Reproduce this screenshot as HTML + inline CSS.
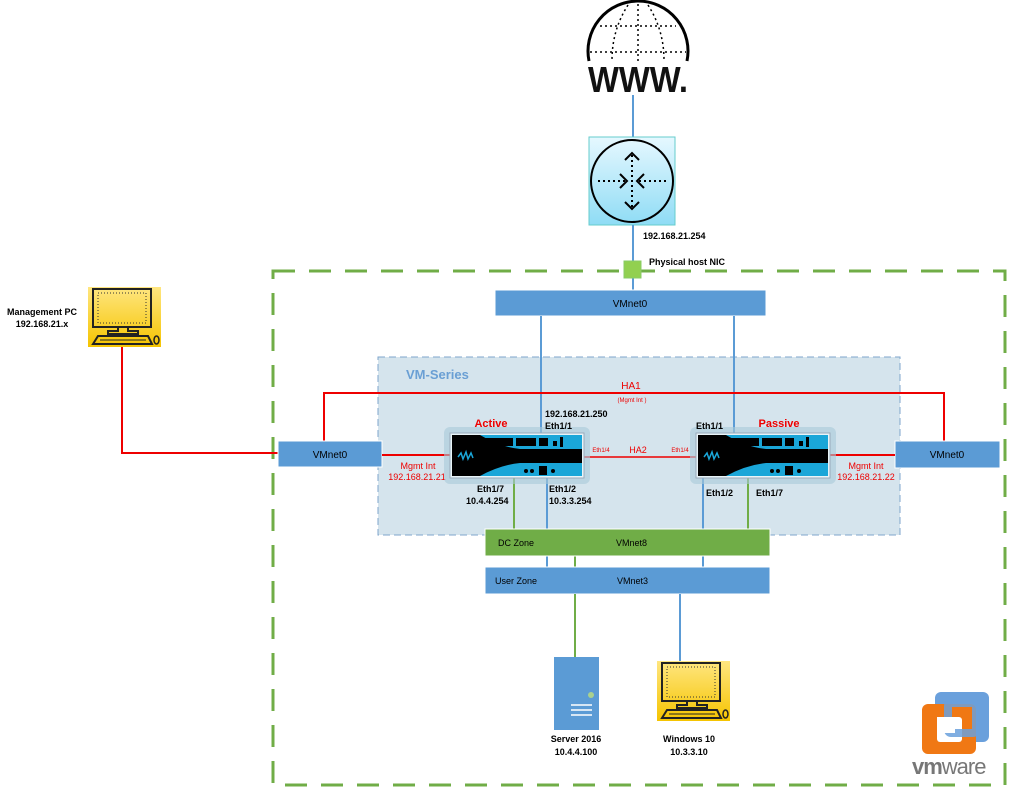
<!DOCTYPE html>
<html><head><style>
body{margin:0;background:#fff}
svg{display:block;font-family:"Liberation Sans",sans-serif}
</style></head><body>
<svg width="1009" height="788" viewBox="0 0 1009 788" xmlns="http://www.w3.org/2000/svg">
<defs>
<linearGradient id="rg" x1="0" y1="0" x2="0" y2="1"><stop offset="0" stop-color="#e6f8ff"/><stop offset="1" stop-color="#8fdcf5"/></linearGradient>
<linearGradient id="yg" x1="0" y1="0" x2="0" y2="1"><stop offset="0" stop-color="#ffe680"/><stop offset="1" stop-color="#f5c400"/></linearGradient>
<g id="fw">
<rect x="-6" y="-6" width="146" height="57" rx="6" fill="#a9c9d8" opacity="0.6"/>
<rect x="0" y="0" width="134" height="45" fill="#e8f4f8" stroke="#9ab" />
<rect x="2" y="2" width="130" height="41" fill="#1aa6d8"/>
<path d="M2 16 L132 16 L132 30 L2 30 Z" fill="#000"/>
<path d="M2 2 L30 2 Q50 14 70 16 L2 16 Z" fill="#000"/>
<path d="M2 43 L30 43 Q50 32 70 30 L2 30 Z" fill="#000"/>
<path d="M8 24 l3 -4 l2 6 l3 -7 l2 7 l3 -6 l2 5" stroke="#1aa6d8" stroke-width="1.5" fill="none"/>
<g fill="#000"><rect x="35" y="5" width="28" height="8"/><rect x="66" y="5" width="20" height="8"/><rect x="89" y="5" width="9" height="8"/><rect x="103" y="8" width="4" height="5"/><rect x="110" y="4" width="3" height="10"/><rect x="89" y="33" width="8" height="9"/><circle cx="82" cy="38" r="2"/><circle cx="76" cy="38" r="2"/><circle cx="103" cy="38" r="2"/></g>
</g>
<g id="pc">
<rect x="0" y="0" width="73" height="60" fill="url(#yg)"/>
<rect x="5" y="2" width="58" height="38" fill="none" stroke="#222" stroke-width="2"/>
<rect x="10" y="6" width="48" height="30" fill="none" stroke="#333" stroke-dasharray="1,2"/>
<path d="M30 40 v4 h-10 v3 h30 v-3 h-10 v-4" fill="none" stroke="#222" stroke-width="2"/>
<path d="M5 57 L10 49 L60 49 L64 57 Z" fill="none" stroke="#222" stroke-width="2"/>
<line x1="12" y1="53" x2="58" y2="53" stroke="#222"/>
<ellipse cx="68.5" cy="53" rx="2.5" ry="4" fill="none" stroke="#222" stroke-width="1.5"/>
</g>
</defs>

<!-- WWW -->
<path d="M589 61 A50 50 0 1 1 687 61" fill="none" stroke="#000" stroke-width="3"/>
<g stroke="#000" stroke-width="1.5" stroke-dasharray="2,3" fill="none">
<line x1="590" y1="52" x2="686" y2="52"/><line x1="600" y1="26" x2="676" y2="26"/>
<line x1="638" y1="4" x2="638" y2="62"/><path d="M628 5 Q612 30 612 60"/><path d="M648 5 Q664 30 664 60"/>
</g>
<text x="588" y="92" font-size="36" font-weight="bold" fill="#111" textLength="100" lengthAdjust="spacingAndGlyphs">WWW.</text>
<line x1="633" y1="95" x2="633" y2="137" stroke="#5b9bd5" stroke-width="2"/>
<!-- Router -->
<rect x="589" y="137" width="86" height="88" fill="url(#rg)" stroke="#6cc" />
<circle cx="632" cy="181" r="41" fill="none" stroke="#000" stroke-width="2"/>
<g stroke="#000" stroke-width="2" fill="none">
<path d="M625 160 l7 -7 l7 7"/><path d="M625 202 l7 7 l7 -7"/><path d="M620 174 l7 7 l-7 7"/><path d="M644 174 l-7 7 l7 7"/>
<g stroke-dasharray="2,3"><line x1="632" y1="155" x2="632" y2="207"/><line x1="598" y1="181" x2="625" y2="181"/><line x1="639" y1="181" x2="667" y2="181"/></g>
</g>
<line x1="633" y1="225" x2="633" y2="290" stroke="#5b9bd5" stroke-width="2"/>
<text x="643" y="239" font-size="9" font-weight="bold">192.168.21.254</text>
<text x="649" y="265" font-size="9" font-weight="bold">Physical host NIC</text>

<!-- outer dashed -->
<rect x="273" y="271" width="732" height="514" fill="none" stroke="#70ad47" stroke-width="3" stroke-dasharray="22,14"/>
<rect x="624" y="261" width="17" height="17" fill="#92d050" stroke="#8c6"/>

<!-- VM-Series -->
<rect x="378" y="357" width="522" height="178" fill="#d5e4ed" stroke="#7fa6cc" stroke-dasharray="7,4"/>
<text x="406" y="379" font-size="13" font-weight="bold" fill="#6a9fd4">VM-Series</text>

<!-- VMnet0 top -->
<rect x="495" y="290" width="271" height="26" fill="#5b9bd5" stroke="#fff"/>
<text x="630" y="307" font-size="10" text-anchor="middle">VMnet0</text>
<line x1="541" y1="316" x2="541" y2="437" stroke="#5b9bd5" stroke-width="2"/>
<line x1="734" y1="316" x2="734" y2="437" stroke="#5b9bd5" stroke-width="2"/>

<!-- Mgmt PC -->
<use href="#pc" x="88" y="287"/>
<text x="42" y="315" font-size="9" font-weight="bold" text-anchor="middle">Management PC</text>
<text x="42" y="327" font-size="9" font-weight="bold" text-anchor="middle">192.168.21.x</text>
<polyline points="122,347 122,453 278,453" fill="none" stroke="#e00" stroke-width="2"/>

<!-- HA1 -->
<polyline points="324,441 324,393 944,393 944,441" fill="none" stroke="#e00" stroke-width="2"/>
<text x="631" y="389" font-size="10" fill="#e00" text-anchor="middle">HA1</text>
<text x="632" y="402" font-size="6" fill="#e00" text-anchor="middle">(Mgmt Int )</text>

<!-- side VMnet0 -->
<rect x="278" y="441" width="104" height="26" fill="#5b9bd5" stroke="#fff"/>
<text x="330" y="458" font-size="10" text-anchor="middle">VMnet0</text>
<rect x="895" y="441" width="105" height="27" fill="#5b9bd5" stroke="#fff"/>
<text x="947" y="458" font-size="10" text-anchor="middle">VMnet0</text>
<line x1="382" y1="455" x2="451" y2="455" stroke="#e00" stroke-width="2"/>
<line x1="830" y1="455" x2="895" y2="455" stroke="#e00" stroke-width="2"/>
<line x1="584" y1="457" x2="697" y2="457" stroke="#e00" stroke-width="1.5"/>
<text x="418" y="469" font-size="9" fill="#e00" text-anchor="middle">Mgmt Int</text>
<text x="417" y="480" font-size="9" fill="#e00" text-anchor="middle">192.168.21.21</text>
<text x="866" y="469" font-size="9" fill="#e00" text-anchor="middle">Mgmt Int</text>
<text x="866" y="480" font-size="9" fill="#e00" text-anchor="middle">192.168.21.22</text>
<text x="638" y="453" font-size="9" fill="#e00" text-anchor="middle">HA2</text>
<text x="601" y="452" font-size="6" fill="#e00" text-anchor="middle">Eth1/4</text>
<text x="680" y="452" font-size="6" fill="#e00" text-anchor="middle">Eth1/4</text>

<!-- vertical links -->
<line x1="514" y1="478" x2="514" y2="529" stroke="#70ad47" stroke-width="2"/>
<line x1="547" y1="478" x2="547" y2="567" stroke="#5b9bd5" stroke-width="2"/>
<line x1="703" y1="478" x2="703" y2="567" stroke="#5b9bd5" stroke-width="2"/>
<line x1="748" y1="478" x2="748" y2="529" stroke="#70ad47" stroke-width="2"/>
<line x1="575" y1="556" x2="575" y2="567" stroke="#70ad47" stroke-width="2"/>

<!-- firewalls -->
<use href="#fw" x="450" y="433"/>
<use href="#fw" x="696" y="433"/>
<text x="491" y="427" font-size="11" font-weight="bold" fill="#e00" text-anchor="middle">Active</text>
<text x="779" y="427" font-size="11" font-weight="bold" fill="#e00" text-anchor="middle">Passive</text>
<g font-size="9" font-weight="bold">
<text x="545" y="417">192.168.21.250</text><text x="545" y="429">Eth1/1</text>
<text x="696" y="429">Eth1/1</text>
<text x="477" y="492">Eth1/7</text><text x="466" y="504">10.4.4.254</text>
<text x="549" y="492">Eth1/2</text><text x="549" y="504">10.3.3.254</text>
<text x="706" y="496">Eth1/2</text><text x="756" y="496">Eth1/7</text>
</g>

<!-- zones -->
<rect x="485" y="529" width="285" height="27" fill="#70ad47" stroke="#fff"/>
<text x="498" y="546" font-size="9">DC Zone</text>
<text x="616" y="546" font-size="9">VMnet8</text>
<rect x="485" y="567" width="285" height="27" fill="#5b9bd5" stroke="#fff"/>
<text x="495" y="584" font-size="9">User Zone</text>
<text x="617" y="584" font-size="9">VMnet3</text>
<line x1="575" y1="594" x2="575" y2="657" stroke="#70ad47" stroke-width="2"/>
<line x1="680" y1="594" x2="680" y2="661" stroke="#5b9bd5" stroke-width="2"/>

<!-- server -->
<rect x="554" y="657" width="45" height="73" fill="#5b9bd5"/>
<circle cx="591" cy="695" r="3" fill="#a9d18e"/>
<g stroke="#fff" stroke-width="1.5"><line x1="571" y1="705" x2="592" y2="705"/><line x1="571" y1="710" x2="592" y2="710"/><line x1="571" y1="715" x2="592" y2="715"/></g>
<text x="576" y="742" font-size="9" font-weight="bold" text-anchor="middle">Server 2016</text>
<text x="576" y="755" font-size="9" font-weight="bold" text-anchor="middle">10.4.4.100</text>
<use href="#pc" x="657" y="661"/>
<text x="689" y="742" font-size="9" font-weight="bold" text-anchor="middle">Windows 10</text>
<text x="689" y="755" font-size="9" font-weight="bold" text-anchor="middle">10.3.3.10</text>

<!-- vmware -->
<rect x="935" y="692" width="54" height="50" rx="6" fill="#6aa0dc"/>
<rect x="922" y="704" width="54" height="50" rx="6" fill="#f07814"/>
<rect x="937" y="717" width="25" height="25" rx="3" fill="#fff"/>
<rect x="948" y="703" width="28" height="30" rx="3" fill="none" stroke="#6aa0dc" stroke-width="8" opacity="0.85"/>
<rect x="937" y="717" width="18" height="16" fill="#fff"/>
<text x="912" y="774" font-size="22" fill="#777" letter-spacing="-1"><tspan font-weight="bold">vm</tspan>ware</text>
</svg>
</body></html>
